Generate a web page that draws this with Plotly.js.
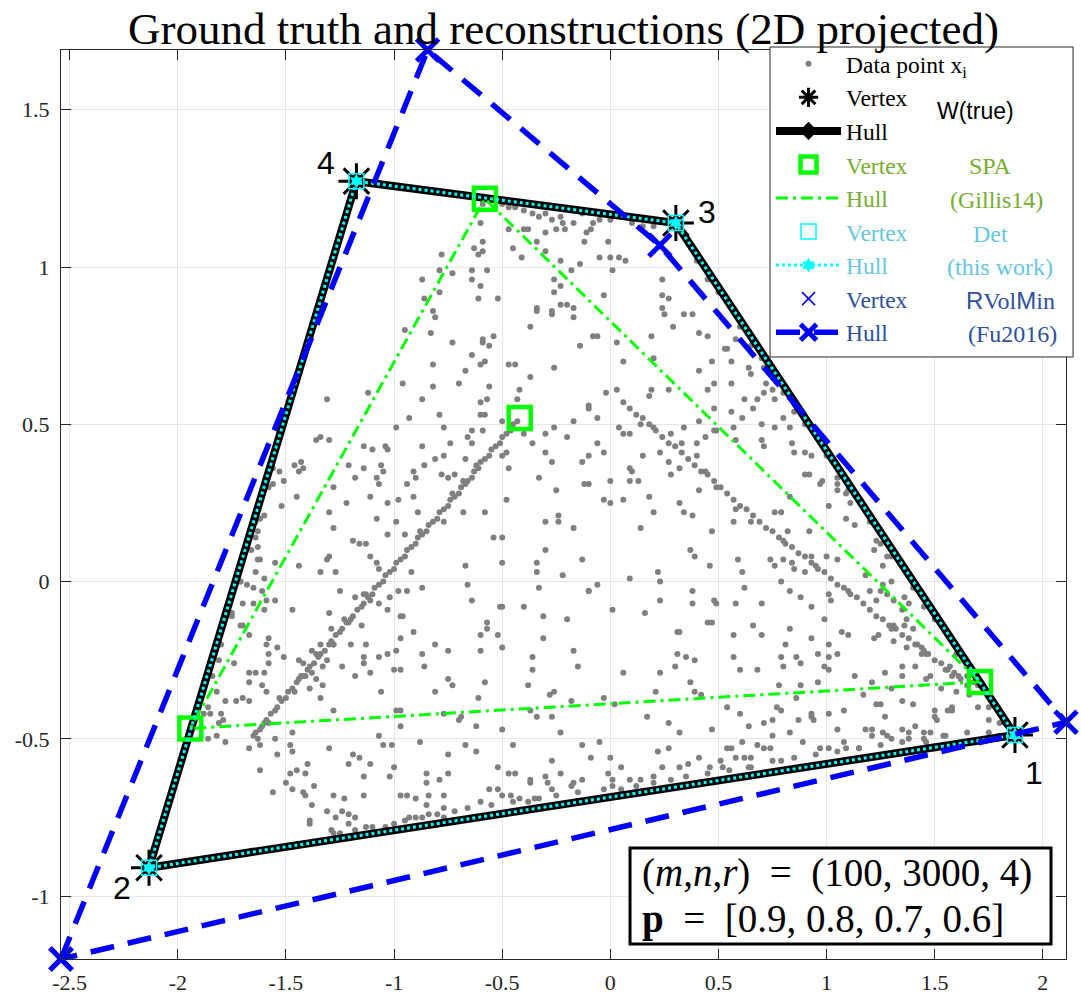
<!DOCTYPE html>
<html>
<head>
<meta charset="utf-8">
<script src="https://cdn.plot.ly/plotly-3.0.1.min.js"></script>
<style>html,body{margin:0;padding:0;background:#fff;}</style>
</head>
<body>
<div id="chart" style="width:1081px;height:1000px;"></div>
<script>
// ---- vertices (columns of W in the 2D projection) ----
const trueVx = [1.871, -2.133, 0.303, -1.174];
const trueVy = [-0.488, -0.910, 1.140, 1.273];
const trueHullOrder = [0, 1, 3, 2, 0];
const vertexLabels = ['1', '2', '3', '4'];

const spaVx = [1.709, -1.942, -0.580, -0.419];
const spaVy = [-0.319, -0.467, 1.217, 0.520];
const spaHullOrder = [0, 1, 2, 0];

const detVx = [1.871, -2.133, 0.303, -1.174];
const detVy = [-0.488, -0.910, 1.140, 1.273];
const detHullOrder = [0, 1, 3, 2, 0];

const rvolVx = [2.107, -2.540, 0.229, -0.845];
const rvolVy = [-0.447, -1.200, 1.069, 1.690];
const rvolHullOrder = [1, 3, 2, 0, 1];

// ---- experiment settings shown in the box ----
const dims = [100, 3000, 4];
const pVals = [0.9, 0.8, 0.7, 0.6];

// ---- axis ticks ----
const xTickVals = [-2.5, -2, -1.5, -1, -0.5, 0, 0.5, 1, 1.5, 2];
const xTickText = ['-2.5', '-2', '-1.5', '-1', '-0.5', '0', '0.5', '1', '1.5', '2'];
const yTickVals = [-1, -0.5, 0, 0.5, 1, 1.5];
const yTickText = ['-1', '-0.5', '0', '0.5', '1', '1.5'];

// ---- data points x_i ----
const ptsUpperLeft = [
[-0.59,1.20],[-0.56,1.21],[-0.50,1.20],[-0.47,1.19],[-0.44,1.19],[-0.40,1.18],[-0.36,1.17],[-0.33,1.16],[-0.30,1.17],[-0.27,1.15],
[-0.23,1.16],[-0.22,1.14],[-0.17,1.14],[-0.13,1.17],[-0.11,1.11],[-0.47,1.12],[-0.40,1.12],[-0.38,1.12],[-0.34,1.08],[-0.30,1.11],
[-0.25,1.12],[-0.21,1.12],[-0.12,1.08],[-0.45,1.06],[-0.41,1.03],[-0.30,1.05],[-0.23,1.02],[-0.14,1.01],[-0.18,0.99],[-0.60,1.14],
[-0.59,1.08],[-0.63,1.06],[-0.59,1.05],[-0.61,1.04],[-0.78,1.04],[-0.64,0.99],[-0.64,0.96],[-0.57,0.99],[-0.79,0.99],[-0.73,0.98],
[-0.87,0.96],[-0.60,0.94],[-0.26,0.96],[-0.23,0.94],[-0.26,0.92],[-0.86,0.90],[-0.79,0.92],[-0.61,0.90],[-0.52,0.90],[-0.34,0.87],
[-0.34,0.86],[-0.27,0.86],[-0.27,0.85],[-0.23,0.88],[-0.20,0.88],[-0.17,0.87],[-0.17,0.84],[-0.82,0.86],[-0.81,0.84],[-0.95,0.80],
[-0.83,0.79],[-0.37,0.81],[-0.59,0.77],[-0.54,0.78],[-0.59,0.76],[-0.56,0.75],[-0.73,0.76],[-0.64,0.72],[-0.60,0.69],[-0.58,0.70],
[-0.82,0.69],[-0.47,0.69],[-0.44,0.69],[-0.14,0.75],[-0.67,0.67],[-0.26,0.68],[-0.37,0.65],[-0.96,0.63],[-0.82,0.62],[-0.70,0.63],
[-0.56,0.62],[-0.42,0.61],[-1.12,0.60],[-1.31,0.58],[-0.87,0.58],[-0.60,0.57],[-0.57,0.58],[-0.43,0.58],[-0.93,0.52],[-0.60,0.53],
[-0.58,0.53],[-0.79,0.53],[-0.50,0.51],[-0.10,0.55],[-0.17,0.51],[-0.26,0.49],[-0.99,0.49],[-0.77,0.49],[-0.64,0.48],[-0.59,0.48],
[-0.66,0.46],[-0.64,0.44],[-0.40,0.47],[-0.20,0.46],[-0.30,0.47],[-1.36,0.45],[-1.34,0.46],[-1.30,0.45],[-1.14,0.43],[-1.10,0.42],
[-1.04,0.43],[-1.03,0.42],[-0.87,0.43],[-0.74,0.44],[-0.50,0.40],[-0.48,0.41],[-0.36,0.44],[-0.30,0.41],[-0.47,0.36],[-0.81,0.39],
[-0.77,0.40],[-0.67,0.39],[-0.27,0.38],[-0.13,0.38],[-1.46,0.37],[-1.43,0.38],[-1.42,0.36],[-1.44,0.35],[-1.21,0.37],[-1.14,0.36],
[-1.06,0.37],[-1.05,0.35],[-0.91,0.35],[-0.86,0.37],[-0.90,0.33],[-0.78,0.34],[-0.75,0.33],[-0.72,0.34],[-0.33,0.33],[-1.56,0.36],
[-1.53,0.35],[-1.51,0.32],[-1.56,0.31],[-1.18,0.33],[-1.08,0.33],[-1.07,0.31],[-0.94,0.31],[-0.12,0.31],[-0.25,0.29],[-1.28,0.30],
[-1.45,0.27],[-1.11,0.27],[-0.91,0.27],[-0.98,0.26],[-0.48,0.26],[-1.22,0.25],[-1.03,0.25],[-1.52,0.24],[-1.30,0.22],[-0.89,0.22],
[-0.68,0.22],[-0.58,0.22],[-0.24,0.21],[-1.08,0.20],[-1.60,0.21]
];
const ptsUpperRight = [
[-0.08,1.14],[-0.09,1.12],[-0.01,1.08],[-0.05,1.03],[0.00,1.03],[0.04,1.03],[0.07,1.02],[0.01,0.99],[0.24,0.96],[0.24,0.91],
[0.27,0.90],[-0.03,0.91],[0.24,0.87],[0.25,0.85],[0.34,0.85],[0.38,0.85],[0.29,0.81],[0.19,0.78],[0.03,0.76],[-0.08,0.78],
[-0.06,0.78],[0.41,0.79],[0.45,0.78],[0.58,0.77],[0.06,0.70],[0.20,0.71],[0.41,0.67],[0.47,0.70],[0.54,0.74],[0.53,0.74],
[0.56,0.70],[0.64,0.68],[0.65,0.66],[0.71,0.68],[0.72,0.63],[0.75,0.61],[0.76,0.58],[0.71,0.60],[0.62,0.58],[0.68,0.58],
[0.27,0.61],[0.19,0.61],[0.18,0.59],[0.03,0.61],[-0.02,0.60],[0.48,0.63],[0.45,0.61],[0.56,0.63],[0.48,0.55],[0.56,0.54],
[0.49,0.48],[0.61,0.52],[0.66,0.55],[0.80,0.52],[0.76,0.49],[0.70,0.50],[0.83,0.49],[0.57,0.49],[0.44,0.46],[0.58,0.45],
[0.70,0.45],[0.71,0.43],[0.84,0.44],[0.85,0.41],[0.90,0.41],[0.93,0.40],[0.92,0.34],[0.90,0.34],[0.98,0.32],[0.97,0.31],
[1.05,0.31],[1.05,0.29],[1.09,0.28],[1.11,0.25],[0.83,0.27],[1.01,0.24],[0.76,0.22],[0.79,0.22],[0.23,0.41],[0.33,0.44],
[0.40,0.44],[0.40,0.40],[0.27,0.38],[0.32,0.36],[0.28,0.34],[0.15,0.40],[0.09,0.36],[0.10,0.35],[0.13,0.32],[0.09,0.32],
[0.00,0.32],[-0.10,0.31],[-0.03,0.26],[0.00,0.25],[0.06,0.26],[0.18,0.27],[0.20,0.22],[0.32,0.25],[0.34,0.22],[0.38,0.21],
[0.41,0.29],[0.49,0.30],[0.58,0.23],[-0.06,0.44],[-0.06,0.52],[-0.10,0.56],[-0.10,0.40],[-0.03,0.41],[0.04,0.49],[0.09,0.47],
[0.06,0.47],[0.14,0.50],[0.28,0.47],[0.34,0.49],[0.41,0.51],[0.48,0.48]
];
const ptsLowerLeft = [
[-1.64,0.19],[-1.63,0.16],[-1.64,0.14],[-1.63,0.11],[-1.62,0.07],[-1.64,0.03],[-1.71,0.00],[-1.68,-0.01],[-1.65,-0.02],[-1.61,-0.03],
[-1.59,-0.06],[-1.55,-0.06],[-1.70,-0.07],[-1.65,-0.07],[-1.75,-0.11],[-1.71,-0.14],[-1.70,-0.14],[-1.67,-0.17],[-1.58,-0.18],[-1.59,-0.20],
[-1.54,-0.21],[-1.58,-0.23],[-1.51,-0.24],[-1.58,-0.26],[-1.74,-0.26],[-1.81,-0.25],[-1.64,-0.29],[-1.67,-0.29],[-1.60,-0.29],[-1.61,-0.33],
[-1.67,-0.32],[-1.59,-0.35],[-1.70,-0.37],[-1.67,-0.38],[-1.73,-0.38],[-1.78,-0.38],[-1.82,-0.35],[-1.86,-0.40],[-1.85,-0.42],[-1.80,-0.42],
[-1.79,-0.44],[-1.81,-0.45],[-1.86,-0.50],[-1.82,-0.49],[-1.78,-0.51],[-1.63,0.07],[-1.55,0.06],[-1.60,0.01],[-1.60,-0.09],[-1.47,-0.09],
[-1.44,0.05],[-1.34,0.03],[-1.27,0.03],[-1.30,0.08],[-1.31,0.07],[-1.28,0.17],[-1.19,0.13],[-1.16,0.12],[-1.13,0.12],[-1.11,0.08],
[-1.08,0.06],[-1.07,0.04],[-1.03,0.15],[-0.99,0.19],[-0.95,0.15],[-0.92,0.03],[-0.87,-0.02],[-0.98,-0.03],[-1.02,-0.05],[-1.07,-0.07],
[-1.03,-0.09],[-0.97,-0.11],[-0.91,-0.16],[-0.97,-0.18],[-0.99,-0.22],[-1.07,-0.24],[-1.03,-0.23],[-1.14,-0.24],[-1.20,-0.20],[-1.24,-0.27],
[-1.13,-0.20],[-1.18,-0.30],[-1.11,-0.29],[-1.00,-0.28],[-0.97,-0.28],[-0.86,-0.27],[-0.87,-0.23],[-0.81,-0.20],[-0.75,-0.22],[-0.81,-0.35],
[-0.75,-0.31],[-0.73,-0.33],[-0.67,0.05],[-0.66,-0.01],[-0.64,-0.06],[-0.57,-0.13],[-0.57,-0.15],[-0.60,-0.17],[-0.60,-0.22],[-0.52,-0.17],
[-0.51,-0.08],[-0.50,-0.08],[-0.50,0.06],[-0.54,0.14],[-0.50,0.14],[-0.77,0.19],[-0.30,0.10],[-0.34,0.06],[-0.34,0.03],[-0.22,0.02],
[-0.13,0.07],[-0.17,0.17],[-0.24,0.19],[-0.30,0.19],[-0.33,-0.02],[-0.40,-0.08],[-0.31,-0.11],[-0.20,-0.12],[-0.10,-0.03],[-1.47,-0.48],
[-1.55,-0.50],[-1.62,-0.52],[-1.67,-0.53],[-1.54,-0.55],[-1.47,-0.54],[-1.48,-0.52],[-1.62,-0.60],[-1.56,-0.67],[-1.50,-0.64],[-1.47,-0.66],
[-1.42,-0.67],[-1.41,-0.68],[-1.38,-0.71],[-1.37,-0.65],[-1.40,-0.58],[-1.45,-0.60],[-1.48,-0.61],[-1.41,-0.61],[-1.39,-0.76],[-1.39,-0.77],
[-1.31,-0.73],[-1.29,-0.79],[-1.27,-0.75],[-1.24,-0.73],[-1.23,-0.69],[-1.28,-0.68],[-1.21,-0.74],[-1.21,-0.77],[-1.18,-0.75],[-1.14,-0.68],
[-1.14,-0.62],[-1.11,-0.58],[-1.16,-0.56],[-1.21,-0.58],[-1.19,-0.55],[-1.30,-0.53],[-1.28,-0.80],[-1.13,-0.78],[-1.04,-0.78],[-1.02,-0.62],
[-1.05,-0.52],[-1.01,-0.52],[-1.07,-0.49],[-1.00,-0.59],[-0.97,-0.68],[-0.94,-0.68],[-0.90,-0.69],[-0.85,-0.61],[-0.85,-0.64],[-0.84,-0.68],
[-0.85,-0.71],[-0.77,-0.68],[-0.77,-0.72],[-0.75,-0.61],[-0.79,-0.63],[-0.75,-0.55],[-0.88,-0.51],[-0.93,-0.75],[-0.90,-0.75],[-0.84,-0.74],
[-0.77,-0.75],[-0.69,-0.43],[-0.67,-0.52],[-0.62,-0.54],[-0.62,-0.46],[-0.52,-0.59],[-0.56,-0.66],[-0.52,-0.66],[-0.50,-0.68],[-0.47,-0.61],
[-0.44,-0.61],[-0.46,-0.68],[-0.42,-0.69],[-0.38,-0.70],[-0.37,-0.63],[-0.37,-0.64],[-0.33,-0.69],[-0.30,-0.62],[-0.29,-0.64],[-0.27,-0.57],
[-0.23,-0.61],[-0.27,-0.66],[-0.18,-0.65],[-0.17,-0.64],[-0.13,-0.63],[-0.13,-0.52],[-0.23,-0.48],[-0.27,-0.43],[-0.34,-0.43],[-0.37,-0.41],
[-0.50,-0.47],[-0.45,-0.52],[-0.60,-0.70],[-0.58,-0.32],[-0.61,-0.37],[-0.38,-0.33],[-0.36,-0.28],[-0.28,-0.36],[-0.26,-0.35],[-0.18,-0.38],
[-0.15,-0.27],[-0.17,-0.22],[-0.31,-0.18],[-0.36,-0.24],[-0.50,-0.21],[-0.70,-0.44],[-0.77,-0.42],[-0.97,-0.41],[-0.99,-0.41],[-0.97,-0.46],
[-1.06,-0.35],[-1.28,-0.41],[-1.34,-0.37],[-1.33,-0.33],[-1.38,-0.22],[-1.34,-0.20],[-1.28,-0.20],[-1.31,-0.25],[-1.14,-0.26],[-0.96,-0.11],
[-0.94,-0.03],[-1.11,-0.06],[-1.18,-0.05],[-1.14,-0.04],[-1.15,-0.14],[-1.21,-0.13],[-1.29,-0.15],[-1.30,-0.10],[-1.25,-0.03],[-1.42,-0.26],
[-1.43,-0.30],[-1.38,-0.29],[-1.36,-0.31],[-1.39,-0.34],[-1.44,-0.25],[-1.33,-0.27]
];
const ptsLowerRight = [
[0.14,0.17],[0.47,0.16],[0.57,0.19],[0.65,0.19],[0.82,0.16],[0.92,0.16],[1.09,0.20],[1.13,0.18],[0.37,0.10],[0.39,0.08],
[0.46,0.05],[0.59,0.07],[0.61,0.03],[0.74,0.07],[0.76,0.05],[0.80,0.07],[0.84,0.06],[0.85,0.04],[0.90,0.03],[0.93,0.08],
[1.00,0.08],[1.05,0.07],[0.22,0.03],[0.23,0.00],[0.09,0.01],[-0.06,-0.01],[-0.10,-0.03],[0.01,-0.09],[0.16,-0.10],[0.23,-0.06],
[0.38,-0.03],[0.38,-0.07],[0.48,-0.06],[0.49,-0.07],[0.62,-0.02],[0.58,-0.07],[0.70,-0.07],[0.79,0.00],[0.83,-0.03],[0.88,-0.05],
[0.93,-0.08],[1.01,-0.04],[1.02,-0.06],[0.45,-0.13],[0.47,-0.13],[0.32,-0.16],[0.31,-0.16],[0.66,-0.14],[0.70,-0.17],[0.57,-0.17],
[0.83,-0.15],[0.81,-0.20],[0.79,-0.24],[0.80,-0.27],[0.86,-0.24],[0.88,-0.26],[0.93,-0.18],[0.96,-0.23],[0.99,-0.12],[1.01,-0.20],
[1.05,-0.23],[1.01,-0.24],[0.99,-0.27],[1.01,-0.28],[1.07,-0.16],[1.10,-0.17],[1.13,-0.30],[1.18,0.02],[1.20,-0.03],[1.23,-0.06],
[1.25,-0.03],[1.26,-0.01],[1.28,-0.04],[1.31,-0.06],[1.36,-0.05],[1.38,-0.07],[1.30,0.00],[1.22,0.10],[1.23,0.13],[1.28,0.08],
[1.26,0.05],[1.35,-0.09],[1.37,-0.12],[1.40,-0.15],[1.36,-0.14],[1.31,-0.14],[1.22,-0.18],[1.24,-0.17],[1.31,-0.19],[1.37,-0.21],
[1.42,-0.20],[1.44,-0.23],[1.35,-0.27],[1.41,-0.27],[1.27,-0.29],[1.35,-0.30],[1.46,-0.31],[1.48,-0.30],[1.53,-0.34],[1.46,-0.23],
[1.30,-0.34],[1.35,-0.38],[1.40,-0.39],[1.23,-0.39],[1.25,-0.39],[1.27,-0.43],[1.50,-0.41],[1.50,-0.43],[1.51,-0.44],[1.56,-0.41],
[1.58,-0.41],[1.58,-0.40],[1.21,-0.32],[1.17,-0.36],[1.08,-0.41],[1.01,-0.42],[0.93,-0.43],[0.87,-0.44],[1.05,-0.47],[0.96,-0.32],
[0.88,-0.33],[0.78,-0.33],[0.77,-0.40],[0.79,-0.41],[0.71,-0.45],[0.75,-0.44],[0.83,-0.48],[0.75,-0.49],[0.64,-0.46],[0.60,-0.42],
[0.54,-0.40],[0.47,-0.47],[0.32,-0.48],[0.27,-0.45],[0.17,-0.43],[0.21,-0.35],[0.37,-0.32],[0.39,-0.35],[0.42,-0.36],[0.23,-0.29],
[0.06,-0.29],[-0.03,-0.37],[0.02,-0.39],[0.31,-0.23],[0.35,-0.24],[0.39,-0.25],[0.30,-0.27],[0.57,-0.24],[0.60,-0.28],[0.68,-0.28],
[0.86,-0.37],[0.93,-0.42],[0.94,-0.44],[1.18,-0.47],[1.21,-0.47],[1.26,-0.48],[1.28,-0.49],[1.35,-0.47],[1.38,-0.48],[1.41,-0.46],
[1.45,-0.48],[1.48,-0.48],[0.54,-0.53],[0.56,-0.53],[0.58,-0.56],[0.61,-0.51],[0.62,-0.56],[0.65,-0.56],[0.68,-0.52],[0.71,-0.53],
[0.74,-0.53],[0.79,-0.57],[0.89,-0.51],[0.97,-0.53],[1.01,-0.53],[1.08,-0.51],[1.09,-0.53],[1.15,-0.53],[1.21,-0.49],[1.30,-0.50],
[1.38,-0.50],[1.46,-0.51],[1.54,-0.49],[0.51,-0.57],[0.52,-0.59],[0.46,-0.59],[0.41,-0.56],[0.36,-0.58],[0.32,-0.59],[0.27,-0.53],
[0.22,-0.54],[0.24,-0.59],[0.20,-0.62],[0.14,-0.63],[0.09,-0.63],[0.05,-0.59],[0.00,-0.56],[-0.01,-0.61],[-0.09,-0.56],[-0.05,-0.51],
[0.01,-0.63],[0.01,-0.65],[-0.03,-0.66],[0.64,-0.59]
];
// dense stripe running from the interior SPA vertex towards vertex 2
const ptsStripeA = [
[-0.43,0.51],[-0.45,0.50],[-0.46,0.48],[-0.48,0.47],[-0.50,0.46],[-0.51,0.44],[-0.53,0.43],[-0.55,0.42],[-0.56,0.40],[-0.58,0.39],
[-0.60,0.38],[-0.61,0.36],[-0.63,0.35],[-0.64,0.33],[-0.66,0.32],[-0.67,0.31],[-0.69,0.30],[-0.70,0.28],[-0.72,0.27],[-0.74,0.26],
[-0.75,0.24],[-0.77,0.23],[-0.79,0.22],[-0.80,0.20],[-0.82,0.19],[-0.84,0.18],[-0.85,0.16],[-0.87,0.15],[-0.89,0.14],[-0.90,0.12],
[-0.92,0.11],[-0.94,0.10],[-0.95,0.08],[-0.97,0.07],[-0.99,0.06],[-1.00,0.04],[-1.02,0.03],[-1.04,0.02],[-1.05,0.00],[-1.07,-0.01],
[-1.09,-0.02],[-1.10,-0.04],[-1.12,-0.05],[-1.14,-0.07],[-1.15,-0.08],[-1.17,-0.09],[-1.19,-0.11],[-1.20,-0.12],[-1.22,-0.13],[-1.24,-0.15],
[-1.25,-0.16],[-1.27,-0.17],[-1.29,-0.19],[-1.30,-0.20],[-1.32,-0.22],[-1.34,-0.23],[-1.35,-0.24],[-1.37,-0.26],[-1.39,-0.27],[-1.40,-0.28],
[-1.42,-0.30],[-1.44,-0.31],[-1.45,-0.32],[-1.47,-0.34],[-1.49,-0.35],[-1.50,-0.37],[-1.52,-0.38],[-1.54,-0.40],[-1.55,-0.41],[-1.57,-0.42],
[-1.59,-0.44],[-1.60,-0.45],[-1.62,-0.47],[-1.64,-0.48],[-1.65,-0.49],[-0.62,0.37],[-0.68,0.32],[-0.73,0.28],[-0.88,0.16],[-1.13,-0.04],
[-1.23,-0.12],[-1.28,-0.20],[-1.36,-0.23],[-1.41,-0.30],[-1.46,-0.35],[-1.53,-0.37],[-1.58,-0.45],[-1.63,-0.50],[-1.61,-0.46]
];
// dense stripe running towards the right SPA vertex
const ptsStripeB = [
[0.06,0.57],[0.09,0.55],[0.12,0.53],[0.15,0.52],[0.18,0.50],[0.21,0.48],[0.24,0.46],[0.27,0.44],[0.30,0.43],[0.33,0.41],
[0.36,0.39],[0.39,0.37],[0.42,0.35],[0.45,0.34],[0.48,0.32],[0.51,0.30],[0.54,0.28],[0.57,0.26],[0.60,0.24],[0.63,0.23],
[0.66,0.21],[0.69,0.19],[0.72,0.17],[0.75,0.16],[0.78,0.14],[0.81,0.12],[0.84,0.11],[0.87,0.09],[0.90,0.08],[0.93,0.06],
[0.96,0.04],[0.99,0.03],[1.02,0.01],[1.05,-0.01],[1.08,-0.02],[1.11,-0.04],[1.14,-0.05],[1.17,-0.07],[1.20,-0.09],[1.23,-0.11],
[1.26,-0.12],[1.29,-0.14],[1.32,-0.15],[1.35,-0.17],[1.38,-0.18],[1.41,-0.20],[1.44,-0.21],[1.47,-0.23],[1.50,-0.25],[1.53,-0.26],
[1.56,-0.28],[1.59,-0.29],[1.62,-0.31],[0.20,0.49],[0.44,0.35],[0.80,0.13],[0.95,0.05],[1.10,-0.03],[1.30,-0.15],[1.45,-0.22],
[1.55,-0.28],[1.58,-0.30],[1.61,-0.30],[1.57,-0.27]
];
// points lying close to the true hull edges
const ptsEdges = [
[0.00,1.15],[0.10,1.14],[0.20,1.13],[-0.05,1.15],[0.15,1.13],
[0.40,1.02],[0.50,0.92],[0.60,0.81],[0.70,0.71],[0.80,0.60],[0.90,0.50],[1.00,0.40],[1.10,0.29],[1.20,0.19],[1.30,0.08],
[1.40,-0.02],[1.50,-0.12],[1.60,-0.23],[1.70,-0.33],[0.45,0.96],[0.65,0.75],[0.85,0.54],[1.05,0.33],[1.25,0.12],[1.45,-0.08],
[1.65,-0.30],[1.75,-0.40],[1.80,-0.45],
[-1.58,0.30],[-1.66,0.10],[-1.75,-0.10],[-1.84,-0.30],[-1.62,0.20],[-1.71,0.00],[-1.80,-0.20],[-1.88,-0.42],
[-1.25,-0.80],[-1.18,-0.79],[-1.10,-0.78],[-1.00,-0.77],[-0.95,-0.76],[-0.87,-0.75],[-0.80,-0.74],[-0.72,-0.73],[-0.66,-0.72],[-0.55,-0.71],
[-0.45,-0.70],[-0.35,-0.69],[-0.25,-0.68],[-0.15,-0.67],[0.05,-0.66],[0.12,-0.65],[0.20,-0.64],[0.28,-0.63],[0.35,-0.62],[0.45,-0.61],
[0.55,-0.60],[0.65,-0.59],[0.75,-0.57],[0.85,-0.56],[0.95,-0.55],[1.05,-0.54],[1.15,-0.53],[1.25,-0.52],[1.35,-0.51],[1.45,-0.50],
[1.55,-0.49],[1.65,-0.48],[1.75,-0.48],
[1.65,-0.33],[1.68,-0.32],[1.60,-0.35],[1.70,-0.40],[1.75,-0.44],[1.66,-0.36]
];

const allPts = [].concat(ptsUpperLeft, ptsUpperRight, ptsLowerLeft, ptsLowerRight, ptsStripeA, ptsStripeB, ptsEdges);
const pick = (arr, order) => order.map(i => arr[i]);

const SERIF = 'Liberation Serif, Times New Roman, serif';
const SANS = 'Liberation Sans, Arial, sans-serif';
const C_SPA_TXT = '#77ac30';
const C_DET_TXT = '#66c6df';
const C_RVOL_TXT = '#2f4f9f';

const traces = [
  { type: 'scatter', mode: 'markers', name: 'Data point x<sub>i</sub>',
    x: allPts.map(p => p[0]), y: allPts.map(p => p[1]),
    marker: { size: 6, color: '#808080' } },
  { type: 'scatter', mode: 'markers', name: 'Vertex',
    x: trueVx, y: trueVy,
    marker: { symbol: 'asterisk-open', size: 30, color: 'black', line: { width: 3, color: 'black' } } },
  { type: 'scatter', mode: 'lines+markers', name: 'Hull',
    x: pick(trueVx, trueHullOrder), y: pick(trueVy, trueHullOrder),
    line: { color: 'black', width: 8 },
    marker: { symbol: 'diamond', size: 14, color: 'black' } },
  { type: 'scatter', mode: 'markers', name: '<span style="color:' + C_SPA_TXT + '">Vertex</span>',
    x: spaVx, y: spaVy,
    marker: { symbol: 'square-open', size: 22, color: '#00ff00', line: { width: 4.5, color: '#00ff00' } } },
  { type: 'scatter', mode: 'lines', name: '<span style="color:' + C_SPA_TXT + '">Hull</span>',
    x: pick(spaVx, spaHullOrder), y: pick(spaVy, spaHullOrder),
    line: { color: '#00ff00', width: 3, dash: '12px,5px,3px,5px' } },
  { type: 'scatter', mode: 'markers', name: '<span style="color:' + C_DET_TXT + '">Vertex</span>',
    x: detVx, y: detVy,
    marker: { symbol: 'square-open', size: 15, color: '#00ffff', line: { width: 1.5, color: '#00ffff' } } },
  { type: 'scatter', mode: 'lines+markers', name: '<span style="color:' + C_DET_TXT + '">Hull</span>',
    x: pick(detVx, detHullOrder), y: pick(detVy, detHullOrder),
    line: { color: '#00ffff', width: 3, dash: '3px,3px' },
    marker: { symbol: 'hexagram', size: 11, color: '#00ffff' } },
  { type: 'scatter', mode: 'markers', name: '<span style="color:' + C_RVOL_TXT + '">Vertex</span>',
    x: rvolVx, y: rvolVy, cliponaxis: false,
    marker: { symbol: 'x-thin-open', size: 13, color: '#0000ff', line: { width: 1.5, color: '#0000ff' } } },
  { type: 'scatter', mode: 'lines+markers', name: '<span style="color:' + C_RVOL_TXT + '">Hull</span>',
    x: pick(rvolVx, rvolHullOrder), y: pick(rvolVy, rvolHullOrder), cliponaxis: false,
    line: { color: '#0000ff', width: 5.5, dash: '24px,14px' },
    marker: { symbol: 'x-thin-open', size: 22, color: '#0000ff', line: { width: 5, color: '#0000ff' } } }
];

// numbered labels next to the true vertices
const labelShift = [[19, -38], [-27, -20], [31, 11], [-30, 18]];
const annotations = vertexLabels.map((t, i) => ({
  x: trueVx[i], y: trueVy[i], xref: 'x', yref: 'y', text: t, showarrow: false,
  xshift: labelShift[i][0], yshift: labelShift[i][1],
  font: { family: SANS, size: 32, color: 'black' }
}));

// method names in the right column of the legend
const methodLabels = [
  { text: 'W(true)', x: 0.9095, y: 0.9329, font: { family: SANS, size: 23, color: 'black' } },
  { text: 'SPA', x: 0.9244, y: 0.8724, font: { family: SERIF, size: 24, color: C_SPA_TXT } },
  { text: '(Gillis14)', x: 0.9313, y: 0.8350, font: { family: SERIF, size: 24, color: C_SPA_TXT } },
  { text: 'Det', x: 0.9244, y: 0.7976, font: { family: SERIF, size: 24, color: C_DET_TXT } },
  { text: '(this work)', x: 0.9343, y: 0.7613, font: { family: SERIF, size: 24, color: C_DET_TXT } },
  { text: '<span style="font-family:Liberation Sans">R</span>Vol<span style="font-family:Liberation Sans">M</span>in',
    x: 0.9443, y: 0.7239, font: { family: SERIF, size: 24, color: C_RVOL_TXT } },
  { text: '(Fu2016)', x: 0.9463, y: 0.6876, font: { family: SERIF, size: 24, color: C_RVOL_TXT } }
];
methodLabels.forEach(m => annotations.push(Object.assign({
  xref: 'paper', yref: 'paper', showarrow: false, xanchor: 'center', yanchor: 'middle'
}, m)));

// experiment settings, one line each, inside a framed box
const boxLines = [
  { text: '(<i>m</i>,<i>n</i>,<i>r</i>)\u00a0\u00a0=\u00a0\u00a0(' + dims.join(',\u00a0') + ')', y: 0.0946 },
  { text: '<b>p</b>\u00a0\u00a0=\u00a0\u00a0[' + pVals.join(',\u00a0') + ']', y: 0.0440 }
];
boxLines.forEach(b => annotations.push({
  xref: 'paper', yref: 'paper', x: 0.5761, y: b.y, xanchor: 'left', yanchor: 'middle',
  showarrow: false, text: b.text, font: { family: SERIF, size: 39, color: 'black' }
}));

const shapes = [
  // legend frame
  { type: 'rect', xref: 'paper', yref: 'paper', layer: 'above',
    x0: 0.7055, x1: 1.007, y0: 0.6623, y1: 1.0033,
    fillcolor: 'white', line: { color: '#262626', width: 1 } },
  // settings box frame
  { type: 'rect', xref: 'paper', yref: 'paper', layer: 'above',
    x0: 0.5662, x1: 0.9851, y0: 0.0165, y1: 0.1221,
    fillcolor: 'white', line: { color: 'black', width: 3 } }
];

const axisCommon = {
  showgrid: true, gridcolor: '#e5e5e5', gridwidth: 1, zeroline: false,
  showline: true, linecolor: '#262626', linewidth: 1, mirror: 'allticks',
  ticks: 'inside', ticklen: 10, tickwidth: 1, tickcolor: '#262626',
  tickfont: { family: SERIF, size: 22, color: '#262626' }, tickmode: 'array'
};

const layout = {
  width: 1081, height: 1000,
  margin: { l: 61, r: 15, t: 50, b: 41 },
  paper_bgcolor: 'white', plot_bgcolor: 'white',
  title: { text: 'Ground truth and reconstructions (2D projected)',
           font: { family: SERIF, size: 45, color: 'black' },
           x: 0.5, xref: 'paper', xanchor: 'center', y: 0.972, yref: 'container', yanchor: 'middle' },
  xaxis: Object.assign({}, axisCommon, {
    range: [Math.min(...rvolVx), Math.max(...rvolVx)],
    tickvals: xTickVals, ticktext: xTickText, ticklabelstandoff: 4 }),
  yaxis: Object.assign({}, axisCommon, {
    range: [Math.min(...rvolVy), Math.max(...rvolVy)],
    tickvals: yTickVals, ticktext: yTickText, ticklabelstandoff: 6 }),
  showlegend: true,
  legend: {
    x: 0.7065, y: 1.0088, xanchor: 'left', yanchor: 'top',
    bgcolor: 'rgba(0,0,0,0)', borderwidth: 0,
    font: { family: SERIF, size: 23.5, color: 'black' },
    itemwidth: 65, tracegroupgap: 0, traceorder: 'normal'
  },
  shapes: shapes,
  annotations: annotations
};

Plotly.newPlot('chart', traces, layout, { displayModeBar: false, staticPlot: true });
</script>
</body>
</html>
